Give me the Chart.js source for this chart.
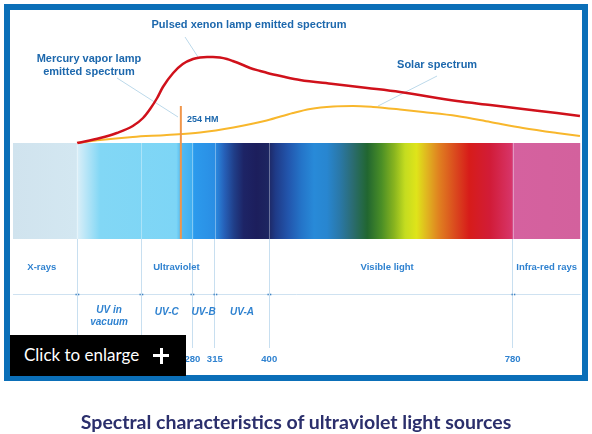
<!DOCTYPE html>
<html><head><meta charset="utf-8">
<script src="https://cdn.jsdelivr.net/npm/chart.js@4.4.1/dist/chart.umd.min.js"></script>
<style>
html,body{margin:0;padding:0;background:#fff;width:592px;height:434px;overflow:hidden;}
#frame{position:absolute;left:4px;top:4px;width:572px;height:365px;border:6px solid #0b6fb8;}
#wrap{position:absolute;left:0;top:0;width:592px;height:434px;}
#enlarge{position:absolute;left:10px;top:335px;width:176px;height:41px;background:#000;}
#enlarge span{position:absolute;left:14px;top:9px;color:#fff;font-family:Lato,"Open Sans",sans-serif;font-weight:400;font-size:17px;line-height:22px;}
#plusH{position:absolute;left:143px;top:19px;width:16px;height:3px;background:#fff;}
#plusV{position:absolute;left:149.5px;top:12.5px;width:3px;height:16px;background:#fff;}
#caption{position:absolute;left:0;top:410px;width:592px;text-align:center;font-family:Lato,"Open Sans",sans-serif;font-weight:700;font-size:19.5px;color:#2b2f6c;line-height:24px;}
</style></head>
<body>
<div id="frame"></div>
<div id="wrap"><canvas id="c" width="592" height="434"></canvas></div>
<div id="enlarge"><span>Click to enlarge</span><div id="plusH"></div><div id="plusV"></div></div>
<div id="caption">Spectral characteristics of ultraviolet light sources</div>
<script>
// ---- data (x: wavelength in nm, y: relative intensity) ----
const wavelengthTicks = [100, 200, 280, 315, 400, 780];
const xenonWavelengths = [100, 136, 162, 187, 203, 214, 225, 234, 250, 265, 281, 292, 303, 312, 323, 334, 343, 359, 370, 386, 397, 421, 448, 500, 553, 604, 693, 745, 796, 849, 885];
const xenonValues      = [0, 5, 10, 17, 25, 34, 45, 56, 70, 79, 84, 85.5, 86, 86, 85.5, 84, 82, 78, 75, 72, 70, 66.5, 63, 59, 55, 51, 42, 38, 34, 30, 27];
const solarWavelengths = [100, 136, 187, 240, 292, 344, 396, 437, 464, 500, 531, 562, 604, 640, 693, 745, 796, 849, 885];
const solarValues      = [0, 3, 6, 8, 10.5, 15.5, 22.5, 30, 34, 36.5, 37, 36, 33.5, 31, 27, 21, 15, 10, 7];
const mercuryLine = 262;      // position of the 254 nm line as drawn
const mercuryTop = 37;
const regionNames  = ["X-rays", "Ultraviolet", "Visible light", "Infra-red rays"];
const regionLabelAt = [45, 255, 584, 833];
const uvBandNames = [["UV in", "vacuum"], ["UV-C"], ["UV-B"], ["UV-A"]];
const uvBandFrom = [100, 200, 280, 315];
const uvBandTo   = [200, 280, 315, 400];

// ---- styling ----
const X_MIN = 0, X_MAX = 886, Y_MIN = -96, Y_MAX = 133;
const bandStops = [
  [0,'#d0e3ee'],[98,'#d3e7f1'],[101,'#d8eef8'],[136,'#82d7f5'],[255,'#7dd5f6'],[262,'#52baf1'],
  [280,'#40aef0'],[283,'#2c9aec'],[315,'#2a8ee4'],[330,'#2660b8'],[345,'#203e88'],[360,'#1d2466'],
  [380,'#1c1e5c'],[398,'#1d2560'],[410,'#1f3b88'],[430,'#2256ad'],[450,'#2474c8'],[470,'#288ad8'],
  [490,'#2886d0'],[510,'#2a78a8'],[530,'#2b6c72'],[553,'#216630'],[575,'#4a8e26'],[595,'#88b41f'],
  [612,'#c4dc20'],[630,'#dfe41a'],[648,'#e0b020'],[665,'#e08020'],[690,'#da4a1e'],[712,'#d71c1a'],
  [745,'#d11c38'],[778,'#d73468'],[781,'#d5619f'],[886,'#d3619d']];
const FONT = '"Liberation Sans", Arial, sans-serif';
const annoColor = '#1d68ad', secColor = '#2f82d0';
const leaders = [
  [[268.5,106],[288.8,86]],
  [[162.3,65],[257.6,26]],
  [[661.9,67],[569.8,37]]
];
const annoTexts = [
  {t:'Pulsed xenon lamp emitted spectrum', x:368.4, y:118, align:'center', size:11, weight:'bold'},
  {t:'Mercury vapor lamp', x:118.6, y:84, align:'center', size:11, weight:'bold'},
  {t:'emitted spectrum', x:118.6, y:71, align:'center', size:11, weight:'bold'},
  {t:'Solar spectrum', x:662, y:78, align:'center', size:11, weight:'bold'},
  {t:'254 HM', x:271.6, y:23, align:'left', size:9, weight:'bold'}
];

const pts = (xs, ys) => xs.map((w,i)=>({x:w, y:ys[i]}));

function bandGradient(context){
  const chart = context.chart;
  const {ctx, chartArea, scales} = chart;
  if (!chartArea) return 'rgba(0,0,0,0)';
  const x0 = scales.x.getPixelForValue(X_MIN), x1 = scales.x.getPixelForValue(X_MAX);
  const g = ctx.createLinearGradient(x0, 0, x1, 0);
  bandStops.forEach(([w,c]) => g.addColorStop((w - X_MIN)/(X_MAX - X_MIN), c));
  return g;
}

const overlay = {
  id:'overlay',
  afterDatasetsDraw(chart){
    const {ctx, chartArea:a, scales:{x,y}} = chart;
    ctx.save();
    ctx.strokeStyle = 'rgba(255,255,255,0.35)';
    ctx.lineWidth = 1;
    const bandTop = y.getPixelForValue(0);
    wavelengthTicks.forEach(w=>{
      const px = Math.round(x.getPixelForValue(w)) + 0.5;
      ctx.beginPath(); ctx.moveTo(px, bandTop); ctx.lineTo(px, a.bottom); ctx.stroke();
    });
    ctx.restore();
  },
  afterDraw(chart){
    const {ctx, chartArea:a, scales:{x,y}} = chart;
    ctx.save();
    ctx.fillStyle = annoColor;
    ctx.textBaseline = 'middle';
    annoTexts.forEach(o=>{
      ctx.font = `${o.weight} ${o.size}px ${FONT}`;
      ctx.textAlign = o.align;
      ctx.fillText(o.t, x.getPixelForValue(o.x), y.getPixelForValue(o.y));
    });
    const hy = Math.round(a.bottom + 55) + 0.5;
    ctx.strokeStyle = '#cfe2f1'; ctx.lineWidth = 1;
    ctx.beginPath(); ctx.moveTo(a.left, hy); ctx.lineTo(a.right, hy); ctx.stroke();
    ctx.fillStyle = '#3d82c4';
    wavelengthTicks.forEach(w=>{
      const px = Math.round(x.getPixelForValue(w));
      ctx.fillRect(px-1.5, hy-0.8, 1.3, 1.6);
      ctx.fillRect(px+1, hy-0.8, 1.3, 1.6);
    });
    ctx.fillStyle = secColor;
    ctx.textAlign = 'center';
    ctx.font = `bold 9.5px ${FONT}`;
    regionNames.forEach((n,i)=>{
      ctx.fillText(n, x.getPixelForValue(regionLabelAt[i]), a.bottom + 28);
    });
    ctx.font = `italic bold 10px ${FONT}`;
    uvBandNames.forEach((lines,i)=>{
      const cx = x.getPixelForValue((uvBandFrom[i] + uvBandTo[i]) / 2);
      if (lines.length === 1) ctx.fillText(lines[0], cx, a.bottom + 73.5);
      else lines.forEach((l,j)=>ctx.fillText(l, cx, a.bottom + 71 + j*12));
    });
    ctx.restore();
  }
};

const lineDefaults = {pointRadius:0, pointHoverRadius:0, fill:false, tension:0};
new Chart(document.getElementById('c'), {
  type:'line',
  data:{
    datasets:[
      Object.assign({}, lineDefaults, {label:'Mercury 254', data:[{x:mercuryLine,y:mercuryTop},{x:mercuryLine,y:Y_MIN}], borderColor:'#f0964a', borderWidth:2, order:0}),
      Object.assign({}, lineDefaults, {label:'Pulsed xenon lamp emitted spectrum', data:pts(xenonWavelengths, xenonValues), borderColor:'#d0111b', borderWidth:2.5, cubicInterpolationMode:'monotone', order:1}),
      Object.assign({}, lineDefaults, {label:'Solar spectrum', data:pts(solarWavelengths, solarValues), borderColor:'#f8b72c', borderWidth:2, cubicInterpolationMode:'monotone', order:2}),
      ...leaders.map((l,i)=>Object.assign({}, lineDefaults, {label:'leader'+i, data:l.map(p=>({x:p[0],y:p[1]})), borderColor:'#bcd9ea', borderWidth:1, order:3})),
      Object.assign({}, lineDefaults, {label:'spectrum', data:[{x:X_MIN,y:0},{x:X_MAX,y:0}], borderWidth:0, borderColor:'rgba(0,0,0,0)', fill:'start', backgroundColor:bandGradient, order:10})
    ]
  },
  options:{
    responsive:false, animation:false, devicePixelRatio:1,
    layout:{padding:{left:13, right:11.4, top:10, bottom:0}},
    plugins:{legend:{display:false}, tooltip:{enabled:false}},
    events:[],
    scales:{
      x:{type:'linear', min:X_MIN, max:X_MAX, position:'bottom',
         border:{display:false},
         grid:{drawOnChartArea:false, drawTicks:true, tickLength:109, color:'#c8dff0', lineWidth:1},
         afterBuildTicks:s=>{ s.ticks = wavelengthTicks.map(v=>({value:v})); },
         afterFit:s=>{ s.height = 434 - 239; },
         ticks:{padding:6, autoSkip:false, maxRotation:0, color:secColor, font:{family:FONT, size:9.5, weight:'bold'}, callback:v=>String(v)}
      },
      y:{type:'linear', min:Y_MIN, max:Y_MAX, display:false}
    }
  },
  plugins:[overlay]
});
</script>
</body></html>
